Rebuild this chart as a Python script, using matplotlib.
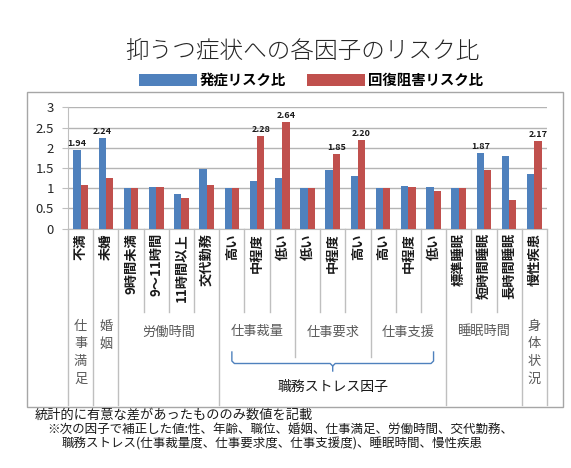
import numpy as np
import matplotlib.pyplot as plt
import matplotlib.transforms as mtransforms
from matplotlib.patches import Rectangle

plt.rcParams['font.family'] = ['Noto Sans CJK JP', 'DejaVu Sans']

categories = ['不満', '未婚', '9時間未満', '9～11時間', '11時間以上', '交代勤務',
              '高い', '中程度', '低い', '低い', '中程度', '高い',
              '高い', '中程度', '低い', '標準睡眠', '短時間睡眠', '長時間睡眠', '慢性疾患']
onset = [1.94, 2.24, 1.00, 1.04, 0.86, 1.47, 1.00, 1.18, 1.26, 1.00,
         1.45, 1.29, 1.00, 1.05, 1.04, 1.00, 1.87, 1.80, 1.34]
recovery = [1.09, 1.26, 1.00, 1.04, 0.77, 1.07, 1.00, 2.28, 2.64, 1.00,
            1.85, 2.20, 1.00, 1.02, 0.93, 1.00, 1.45, 0.72, 2.17]
onset_labels = {0: '1.94', 1: '2.24', 16: '1.87'}
recovery_labels = {7: '2.28', 8: '2.64', 10: '1.85', 11: '2.20', 18: '2.17'}
groups = ['仕事満足', '婚姻', '労働時間', '仕事裁量', '仕事要求', '仕事支援', '睡眠時間', '身体状況']
group_sizes = [1, 1, 4, 3, 3, 3, 3, 1]
stress_groups = (3, 6)  # 仕事裁量..仕事支援
stress_label = '職務ストレス因子'
series_names = ['発症リスク比', '回復阻害リスク比']
yticks = [0, 0.5, 1, 1.5, 2, 2.5, 3]

W, H = 571, 468
blue, red = '#4F81BD', '#C0504D'
line_gray = '#BFBFBF'

fig = plt.figure(figsize=(W / 100, H / 100), dpi=100)
ax = fig.add_axes([68 / W, 1 - 228.7 / H, (547 - 68) / W, (228.7 - 107.3) / H])

x = np.arange(len(categories))
bw = 0.29
b1 = ax.bar(x - bw / 2, onset, bw, color=blue, label=series_names[0], zorder=3)
b2 = ax.bar(x + bw / 2, recovery, bw, color=red, label=series_names[1], zorder=3)

for i, s in onset_labels.items():
    ax.annotate(s, (x[i] - bw / 2, onset[i]), xytext=(0, 1.5), textcoords='offset points',
                ha='center', va='bottom', fontsize=6.5, fontweight='bold', color='#1a1a1a')
for i, s in recovery_labels.items():
    ax.annotate(s, (x[i] + bw / 2, recovery[i]), xytext=(0, 1.5), textcoords='offset points',
                ha='center', va='bottom', fontsize=6.5, fontweight='bold', color='#1a1a1a')

ax.set_xlim(-0.5, len(categories) - 0.5)
ax.set_ylim(0, 3)
ax.set_yticks(yticks)
ax.set_yticklabels([f'{t:g}' for t in yticks], fontsize=9.5, color='#262626')
ax.tick_params(axis='y', length=4, color=line_gray, pad=6)
ax.set_xticks([])
ax.grid(axis='y', color='#B4B4B4', lw=1.0, zorder=0)
for sp in ['top', 'right']:
    ax.spines[sp].set_visible(False)
ax.spines['left'].set_color(line_gray)
ax.spines['bottom'].set_color(line_gray)

# table under the axis: x in data units, y in figure pixels
tr = mtransforms.blended_transform_factory(ax.transData, fig.transFigure)
def fy(px):
    return 1 - px / H

y0 = 228.7
for i, c in enumerate(categories):
    ax.text(x[i], fy(233), c, transform=tr, rotation=90, ha='center', va='top',
            fontsize=9.5, fontweight='bold', color='#1a1a1a')

bounds = np.concatenate([[0], np.cumsum(group_sizes)])
stress_inner = set(bounds[stress_groups[0] + 1:stress_groups[1]])
for b in range(len(categories) + 1):
    if b in bounds:
        ybot = 357 if b in stress_inner else 405
    else:
        ybot = 312
    ax.plot([b - 0.5, b - 0.5], [fy(y0), fy(ybot)], transform=tr, color=line_gray,
            lw=1.0, clip_on=False)

for g, name in enumerate(groups):
    xc = (bounds[g] + bounds[g + 1] - 1) / 2
    if group_sizes[g] == 1:
        ax.text(xc, fy(320), '\n'.join(name), transform=tr, ha='center', va='top',
                fontsize=9.5, color='#595959', linespacing=1.45)
    else:
        ax.text(xc, fy(332), name, transform=tr, ha='center', va='center',
                fontsize=9.5, color='#595959')

# brace for the stress factors
xs = bounds[stress_groups[0]]
xe = bounds[stress_groups[1]] - 1
xm = (xs + xe) / 2
ax.plot([xs, xs, xs + 0.1, xm - 0.1, xm, xm], [fy(352), fy(361), fy(363.5), fy(363.5), fy(366), fy(371)],
        transform=tr, color=blue, lw=1.0, clip_on=False)
ax.plot([xe, xe, xe - 0.1, xm + 0.1, xm], [fy(352), fy(361), fy(363.5), fy(363.5), fy(366)],
        transform=tr, color=blue, lw=1.0, clip_on=False)
ax.text(xm, fy(387), stress_label, transform=tr, ha='center', va='center',
        fontsize=10, color='#1a1a1a')

# outer frame
fig.patches.append(Rectangle((27 / W, fy(407)), (563 - 27) / W, (407 - 92) / H,
                             transform=fig.transFigure, fill=False, ec='#A6A6A6', lw=1.0))

fig.text(302 / W, fy(51), '抑うつ症状への各因子のリスク比', ha='center', va='center',
         fontsize=17, fontweight='light', color='#262626')
fig.legend(handles=[b1, b2], loc='center', bbox_to_anchor=(311 / W, fy(81)), ncol=2,
           frameon=False, prop={'size': 10.4, 'weight': 'bold'}, handlelength=4.0,
           handleheight=0.85, handletextpad=0.2, columnspacing=1.5, borderpad=0)

notes = ['統計的に有意な差があったもののみ数値を記載',
         '※次の因子で補正した値:性、年齢、職位、婚姻、仕事満足、労働時間、交代勤務、',
         '職務ストレス(仕事裁量度、仕事要求度、仕事支援度)、睡眠時間、慢性疾患']
note_pos = [(35, 415), (47, 429.5), (62, 444)]
note_size = [9.5, 9, 9]
for s, (px, py), fs in zip(notes, note_pos, note_size):
    fig.text(px / W, fy(py), s, ha='left', va='center', fontsize=fs, color='#1a1a1a')

fig.savefig('out.png', dpi=100)
